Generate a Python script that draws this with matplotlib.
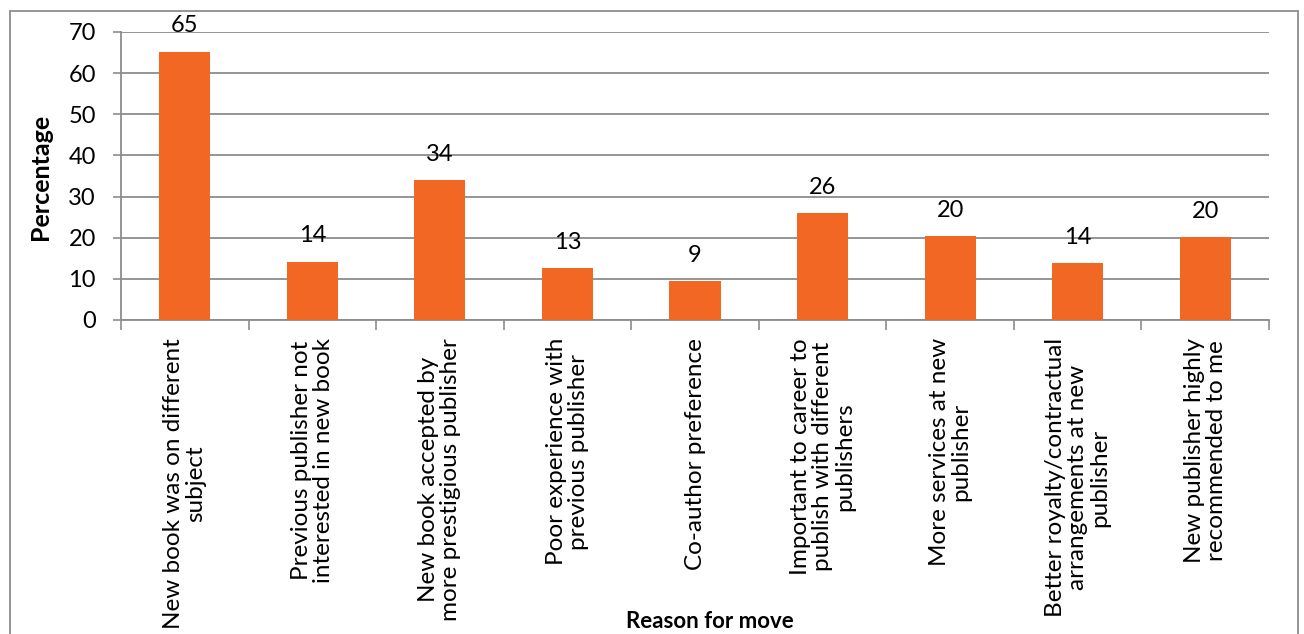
#!/usr/bin/env python3

# Bar chart of reasons authors gave for moving to a new publisher

import numpy as np
import matplotlib
matplotlib.use("Agg")
from matplotlib import pyplot as plt
from matplotlib.patches import Rectangle

# reasons (wrapped the way they appear under the axis) and percentages
reasons = [
	"New book was on different\nsubject",
	"Previous publisher not\ninterested in new book",
	"New book accepted by\nmore prestigious publisher",
	"Poor experience with\nprevious publisher",
	"Co-author preference",
	"Important to career to\npublish with different\npublishers",
	"More services at new\npublisher",
	"Better royalty/contractual\narrangements at new\npublisher",
	"New publisher highly\nrecommended to me",
]
percentages = [65.2, 14.2, 34.0, 12.6, 9.4, 25.9, 20.4, 13.9, 20.2]
y_ticks = [0, 10, 20, 30, 40, 50, 60, 70]

bar_color = "#F26724"
grid_color = "#8C8C8C"

plt.rcParams['font.family'] = ['Lato', 'DejaVu Sans']

W, H = 1304, 634
fig = plt.figure(figsize=(W / 100, H / 100), dpi=100)

# plot area placed in pixel terms
left, right, top, bottom = 121, 1269, 32, 320
ax = fig.add_axes([left / W, 1 - bottom / H, (right - left) / W, (bottom - top) / H])

x = np.arange(len(reasons))
bars = ax.bar(x, percentages, width=0.4, color=bar_color, zorder=3)

# value labels above each bar
for xi, v in zip(x, percentages):
	ax.annotate("{:.0f}".format(v), (xi, v), xytext=(0, 11), textcoords="offset points",
				ha="center", va="bottom", fontsize=17, color="black")

ax.set_xlim(-0.5, len(reasons) - 0.5)
ax.set_ylim(0, 70)
ax.set_yticks(y_ticks)
ax.yaxis.grid(True, color=grid_color, linewidth=1.3, zorder=0)
ax.tick_params(axis="y", labelsize=17, length=6, color=grid_color, width=1.2, pad=12)

# category labels centred under bars, ticks on category boundaries
ax.set_xticks(x)
ax.set_xticklabels(reasons, rotation=90, ha="center", va="top", multialignment="center",
				   fontsize=17.5, linespacing=1.05)
ax.tick_params(axis="x", which="major", length=0, pad=13)
ax.set_xticks(np.arange(-0.5, len(reasons)), minor=True)
ax.tick_params(axis="x", which="minor", length=7, color=grid_color, width=1.2)

for side in ["top", "right"]:
	ax.spines[side].set_visible(False)
for side in ["left", "bottom"]:
	ax.spines[side].set_color(grid_color)
	ax.spines[side].set_linewidth(1.3)

fig.text(40 / W, 1 - 177 / H, "Percentage", rotation=90, ha="center", va="center",
		 fontsize=18, fontweight="bold")
fig.text(710 / W, 1 - 621 / H, "Reason for move", ha="center", va="center",
		 fontsize=16, fontweight="bold")

# outer frame around the whole chart
fig.patches.append(Rectangle((10 / W, -0.05), 1288 / W, 1 - 11 / H + 0.05,
							 transform=fig.transFigure, fill=False,
							 edgecolor="#8C8C8C", linewidth=1.3))

fig.savefig("out.png", dpi=100)
